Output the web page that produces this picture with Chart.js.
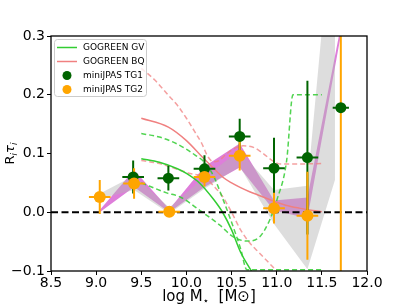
<!DOCTYPE html>
<html>
<head>
<meta charset="utf-8">
<script src="https://cdn.jsdelivr.net/npm/chart.js@4.4.0/dist/chart.umd.min.js"></script>
<style>
  html, body { margin: 0; padding: 0; background: #fff; }
  canvas { display: block; }
</style>
</head>
<body>
<canvas id="chart" width="407" height="305"></canvas>
<script>
// miniJPAS points (log M, R*tau, errors)
var tg1Mass = [9.41, 9.8, 10.2, 10.59, 10.97, 11.34, 11.71];
var tg1Val = [0.060, 0.058, 0.074, 0.129, 0.075, 0.093, 0.178];
var tg1Err = [0.028, 0.021, 0.023, 0.030, 0.052, 0.131, 0.0];
var tg1MassErr = [0.12, 0.12, 0.12, 0.12, 0.12, 0.12, 0.09];

var tg2Mass = [9.04, 9.42, 9.81, 10.2, 10.59, 10.97, 11.34, 11.71];
var tg2Val = [0.026, 0.049, 0.001, 0.060, 0.096, 0.007, -0.006, 0.45];
var tg2Err = [0.029, 0.026, 0.003, 0.016, 0.025, 0.026, 0.075, 0.8];
var tg2MassErr = [0.12, 0.12, 0.12, 0.12, 0.12, 0.12, 0.12, 0.0];

// shaded bands
var violetMass = [9.04, 9.42, 9.81, 10.2, 10.59, 10.97, 11.34, 11.72];
var violetLow = [0.0, 0.043, 0.0, 0.043, 0.076, 0.003, -0.01, 0.31];
var violetHigh = [0.004, 0.072, 0.005, 0.078, 0.117, 0.02, 0.025, 0.325];

var grayMass = [9.02, 9.42, 9.81, 10.2, 10.59, 10.97, 11.34, 11.645];
var grayLow = [0.022, 0.038, -0.002, 0.04, 0.078, -0.02, -0.097, 0.055];
var grayHigh = [0.03, 0.062, 0.008, 0.06, 0.105, 0.038, 0.045, 0.55];

// GOGREEN GV
var gvMass = [9.5, 9.7, 9.9, 10.0, 10.15, 10.3, 10.4, 10.5, 10.6, 10.72];
var gvVal = [0.091, 0.085, 0.074, 0.066, 0.049, 0.022, 0.0, -0.03, -0.068, -0.1];
var gvUpMass = [9.5, 9.7, 9.9, 10.1, 10.2, 10.3, 10.4, 10.5, 10.6, 10.67, 11.0, 11.5];
var gvUpVal = [0.134, 0.128, 0.116, 0.097, 0.085, 0.062, 0.024, -0.017, -0.062, -0.098, -0.098, -0.098];
var gvLoMass = [9.5, 9.78, 9.93, 10.15, 10.37, 10.52, 10.67, 10.81, 10.92, 11.0, 11.11, 11.18, 11.5];
var gvLoVal = [0.05, 0.033, 0.026, 0.003, -0.022, -0.042, -0.049, -0.042, -0.014, 0.02, 0.088, 0.2, 0.2];

// GOGREEN BQ
var bqMass = [9.5, 9.8, 10.0, 10.17, 10.3, 10.4, 10.5, 10.6, 10.7, 10.8, 10.9, 11.0, 11.1, 11.25, 11.4, 11.5];
var bqVal = [0.160, 0.145, 0.122, 0.095, 0.075, 0.06, 0.05, 0.042, 0.035, 0.029, 0.023, 0.017, 0.012, 0.007, 0.003, 0.001];
var bqUpMass = [9.5, 9.65, 9.8, 9.9, 10.0, 10.1, 10.17, 10.24, 10.3, 10.36, 10.45, 10.55, 10.63, 10.75, 10.85, 10.95, 11.05, 11.2, 11.5];
var bqUpVal = [0.245, 0.225, 0.199, 0.182, 0.16, 0.135, 0.117, 0.094, 0.086, 0.088, 0.1, 0.11, 0.113, 0.11, 0.1, 0.088, 0.082, 0.082, 0.083];
var bqLoMass = [9.5, 9.7, 9.9, 10.04, 10.2, 10.3, 10.4, 10.5, 10.6, 10.7, 10.8, 10.9, 11.0];
var bqLoVal = [0.088, 0.083, 0.073, 0.066, 0.06, 0.045, 0.027, 0.0, -0.03, -0.052, -0.068, -0.084, -0.1];

var legendLabels = ['GOGREEN GV', 'GOGREEN BQ', 'miniJPAS TG1', 'miniJPAS TG2'];
var xTicks = { min: 8.5, max: 12.0, step: 0.5 };
var yTicks = { min: -0.1, max: 0.3, step: 0.1 };

var GV = 'rgb(50,205,50)', GV_D = 'rgba(50,205,50,0.85)';
var BQ = 'rgb(240,128,128)', BQ_D = 'rgba(240,128,128,0.75)';
var TG1 = '#006400', TG2 = '#ffa500';

function pts(xs, ys) {
  return xs.map(function (x, i) { return { x: x, y: ys[i] }; });
}
function vBars(xs, ys, es) {
  var out = [];
  xs.forEach(function (x, i) {
    out.push({ x: x, y: ys[i] - es[i] }, { x: x, y: ys[i] + es[i] }, { x: x, y: null });
  });
  return out;
}
function hBars(xs, ys, es) {
  var out = [];
  xs.forEach(function (x, i) {
    out.push({ x: x - es[i], y: ys[i] }, { x: x + es[i], y: ys[i] }, { x: x, y: null });
  });
  return out;
}

function curve(xs, ys, color, dashed, order) {
  return {
    data: pts(xs, ys), borderColor: color, borderWidth: 1.5,
    borderDash: dashed ? [5, 3] : [], pointRadius: 0, fill: false,
    cubicInterpolationMode: 'monotone', order: order, clip: 0
  };
}
function band(xs, ys, color, order, fillPrev) {
  return {
    data: pts(xs, ys), borderColor: 'rgba(0,0,0,0)', borderWidth: 0,
    backgroundColor: color, pointRadius: 0, tension: 0,
    fill: fillPrev ? '-1' : false, order: order, clip: 0
  };
}
function bars(data, color, order) {
  return {
    data: data, borderColor: color, borderWidth: 2, pointRadius: 0,
    tension: 0, fill: false, spanGaps: false, order: order, clip: 0
  };
}
function dots(xs, ys, color, r, order) {
  return {
    data: pts(xs, ys), showLine: false, pointRadius: r,
    pointBackgroundColor: color, pointBorderWidth: 0, borderColor: color,
    order: order, clip: 0
  };
}

var datasets = [
  band(violetMass, violetLow, 'rgba(218,112,214,0.9)', 20, false),
  band(violetMass, violetHigh, 'rgba(218,112,214,0.9)', 20, true),
  band(grayMass, grayLow, 'rgba(180,180,180,0.45)', 19, false),
  band(grayMass, grayHigh, 'rgba(180,180,180,0.45)', 19, true),
  curve(gvMass, gvVal, GV, false, 15),
  curve(gvUpMass, gvUpVal, GV_D, true, 15),
  curve(gvLoMass, gvLoVal, GV_D, true, 15),
  curve(bqMass, bqVal, BQ, false, 15),
  curve(bqUpMass, bqUpVal, BQ_D, true, 15),
  curve(bqLoMass, bqLoVal, BQ_D, true, 15),
  { data: [{ x: xTicks.min, y: 0 }, { x: xTicks.max, y: 0 }], borderColor: '#000',
    borderWidth: 2, borderDash: [7, 3.5], pointRadius: 0, order: 12, clip: 0 },
  bars(vBars(tg1Mass, tg1Val, tg1Err), TG1, 10),
  bars(hBars(tg1Mass, tg1Val, tg1MassErr), TG1, 10),
  bars(vBars(tg2Mass, tg2Val, tg2Err), TG2, 9),
  bars(hBars(tg2Mass, tg2Val, tg2MassErr), TG2, 9),
  dots(tg1Mass, tg1Val, TG1, 5.5, 8),
  dots(tg2Mass, tg2Val, TG2, 6, 7)
];

function fmt(v) {
  var s = Math.abs(v) < 1e-9 ? '0.0' : v.toFixed(1);
  return s.replace('-', '\u2212');
}

function drawParts(ctx, parts, x, y) {
  parts.forEach(function (p) {
    ctx.font = p.style + ' ' + p.size + 'px "DejaVu Sans"';
    ctx.fillText(p.text, x, y + p.dy);
    x += ctx.measureText(p.text).width;
  });
}
function partsWidth(ctx, parts) {
  var w = 0;
  parts.forEach(function (p) {
    ctx.font = p.style + ' ' + p.size + 'px "DejaVu Sans"';
    w += ctx.measureText(p.text).width;
  });
  return w;
}

var decor = {
  id: 'decor',
  afterDatasetsDraw: function (chart) {
    var ctx = chart.ctx, a = chart.chartArea;
    ctx.save();
    ctx.strokeStyle = '#000';
    ctx.lineWidth = 1.3;
    ctx.strokeRect(a.left, a.top, a.right - a.left, a.bottom - a.top);

    // legend box
    ctx.beginPath();
    ctx.roundRect(54.5, 39.5, 92, 57, 3);
    ctx.fillStyle = 'rgba(255,255,255,0.8)';
    ctx.fill();
    ctx.strokeStyle = '#cccccc';
    ctx.lineWidth = 1;
    ctx.stroke();
    var rows = [47.5, 61.5, 75.5, 89.5];
    var cols = [GV, BQ, TG1, TG2];
    rows.forEach(function (y, i) {
      if (i < 2) {
        ctx.strokeStyle = cols[i];
        ctx.lineWidth = 1.5;
        ctx.beginPath();
        ctx.moveTo(57, y);
        ctx.lineTo(77, y);
        ctx.stroke();
      } else {
        ctx.fillStyle = cols[i];
        ctx.beginPath();
        ctx.arc(67, y, 4.5, 0, Math.PI * 2);
        ctx.fill();
      }
      ctx.fillStyle = '#000';
      ctx.font = '9px "DejaVu Sans"';
      ctx.textBaseline = 'middle';
      ctx.fillText(legendLabels[i], 83, y);
    });

    // axis titles
    ctx.fillStyle = '#000';
    ctx.textBaseline = 'alphabetic';
    var xp = [
      { text: 'log M', size: 15, style: 'normal', dy: 0 },
      { text: '\u22c6', size: 10, style: 'normal', dy: 3 },
      { text: '  [M\u2299]', size: 15, style: 'normal', dy: 0 }
    ];
    var w = partsWidth(ctx, xp);
    drawParts(ctx, xp, (a.left + a.right) / 2 - w / 2, 301);

    var yp = [
      { text: 'R', size: 13, style: 'normal', dy: 0 },
      { text: 'i', size: 9, style: 'italic', dy: 3 },
      { text: '\u03c4', size: 13, style: 'italic', dy: 0 },
      { text: 'i', size: 9, style: 'italic', dy: 3 }
    ];
    ctx.translate(14, (a.top + a.bottom) / 2);
    ctx.rotate(-Math.PI / 2);
    w = partsWidth(ctx, yp);
    drawParts(ctx, yp, -w / 2, 0);
    ctx.restore();
  }
};

Chart.defaults.font.family = '"DejaVu Sans"';
Chart.defaults.color = '#000';

new Chart(document.getElementById('chart'), {
  type: 'line',
  data: { datasets: datasets },
  options: {
    responsive: false,
    animation: false,
    events: [],
    devicePixelRatio: 1,
    layout: { padding: { left: 0, top: 36, right: 40, bottom: 0 } },
    plugins: { legend: { display: false }, tooltip: { enabled: false } },
    scales: {
      x: {
        type: 'linear', min: xTicks.min, max: xTicks.max,
        afterFit: function (s) { s.height = 34; },
        grid: { display: true, drawOnChartArea: false, drawTicks: true, tickLength: 4, color: '#000' },
        border: { display: false },
        ticks: { stepSize: xTicks.step, padding: 0, font: { size: 14 }, color: '#000',
          maxRotation: 0, autoSkip: false, callback: fmt }
      },
      y: {
        type: 'linear', min: yTicks.min, max: yTicks.max,
        afterFit: function (s) { s.width = 51; },
        grid: { display: true, drawOnChartArea: false, drawTicks: true, tickLength: 4, color: '#000' },
        border: { display: false },
        ticks: { stepSize: yTicks.step, padding: 2, font: { size: 14 }, color: '#000',
          autoSkip: false, callback: fmt }
      }
    }
  },
  plugins: [decor]
});
</script>
</body>
</html>
